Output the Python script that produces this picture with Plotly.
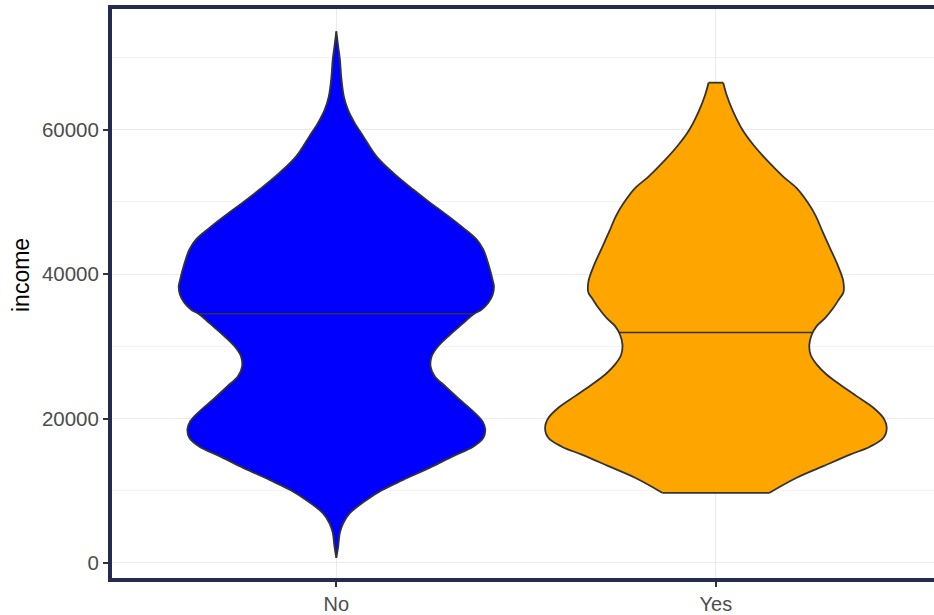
import numpy as np
import plotly.graph_objects as go

categories = ["No", "Yes"]

# violin outline: income levels (top -> bottom) and scaled density (1 = widest)
no_income = [73600, 71500, 69700, 67000, 64600, 62700, 60900, 59100, 56300, 54000,
             51700, 50100, 48200, 46400, 44800, 43400, 41500, 38800, 38300, 37100,
             36000, 35100, 34400, 33200, 31600, 30000, 28600, 27200, 25800, 24500,
             22600, 21000, 19600, 18500, 17300, 16100, 14800, 13200, 11500, 10100,
             8500, 6900, 5500, 4200, 2300, 700]
no_density = [0.0, 0.011, 0.021, 0.030, 0.044, 0.069, 0.108, 0.157, 0.235, 0.333,
              0.450, 0.537, 0.646, 0.743, 0.821, 0.860, 0.889, 0.919, 0.923, 0.915,
              0.889, 0.851, 0.801, 0.743, 0.665, 0.596, 0.558, 0.552, 0.577, 0.636,
              0.723, 0.801, 0.856, 0.872, 0.860, 0.801, 0.684, 0.548, 0.391, 0.269,
              0.164, 0.079, 0.040, 0.021, 0.011, 0.0]

yes_income = [66500, 64800, 62500, 59800, 57900, 55800, 53500, 51900, 49800, 48000,
              45900, 43600, 41300, 39000, 37400, 36700, 35300, 33900, 32800, 31600,
              30200, 28800, 27500, 26100, 24700, 23100, 21500, 20100, 18700, 17300,
              16100, 15000, 13400, 11800, 9700]
yes_density = [0.043, 0.063, 0.101, 0.160, 0.219, 0.297, 0.394, 0.473, 0.541, 0.586,
               0.624, 0.668, 0.712, 0.746, 0.746, 0.726, 0.687, 0.639, 0.590, 0.561,
               0.547, 0.555, 0.590, 0.648, 0.726, 0.824, 0.922, 0.980, 1.0, 0.980,
               0.902, 0.785, 0.629, 0.473, 0.312]

medians = [34500, 31900]
fill_colors = ["#0000FF", "#FFA500"]

y_ticks = [0, 20000, 40000, 60000]
y_tick_labels = ["0", "20000", "40000", "60000"]

HALF = 0.45
OUTLINE = "#333333"
BORDER = "#232C4F"
LW = 1.8

W, H = 944, 615
ML, MR, MT, MB = 112, 0, 9, 37

fig = go.Figure()
groups = [(no_income, no_density), (yes_income, yes_density)]
for i, (inc, den) in enumerate(groups):
    pos = i + 1
    inc = np.asarray(inc, float)
    den = np.asarray(den, float) * HALF
    line = dict(color=OUTLINE, width=LW, shape="spline", smoothing=1.0)
    # left side
    fig.add_trace(go.Scatter(
        x=pos - den, y=inc, mode="lines", line=line,
        hoverinfo="skip", showlegend=False))
    # right side, filled to the left side
    fig.add_trace(go.Scatter(
        x=pos + den, y=inc, mode="lines", line=line,
        fill="tonextx", fillcolor=fill_colors[i],
        hoverinfo="skip", showlegend=False))
    # flat ends (trimmed violin)
    fig.add_trace(go.Scatter(
        x=[pos - den[0], pos + den[0], None, pos - den[-1], pos + den[-1]],
        y=[inc[0], inc[0], None, inc[-1], inc[-1]], mode="lines",
        line=dict(color=OUTLINE, width=LW), hoverinfo="skip", showlegend=False))
    # median line spans violin width at the median
    w = np.interp(medians[i], inc[::-1], den[::-1])
    fig.add_trace(go.Scatter(
        x=[pos - w, pos + w], y=[medians[i], medians[i]], mode="lines",
        line=dict(color=OUTLINE, width=1.6), hoverinfo="skip", showlegend=False))

plot_w = W - ML - MR
plot_h = H - MT - MB

fig.add_annotation(
    text="income", textangle=-90, showarrow=False,
    xref="paper", yref="paper",
    x=(21 - ML) / plot_w, y=(H - MB - 275) / plot_h,
    xanchor="center", yanchor="middle",
    font=dict(size=23, color="black"))

fig.update_layout(
    width=W, height=H,
    margin=dict(l=ML, r=MR, t=MT, b=MB),
    paper_bgcolor="white", plot_bgcolor="white",
    font=dict(family="Liberation Sans, Arial, sans-serif", color="#4D4D4D", size=20),
    xaxis=dict(
        range=[0.409, 2.601], tickvals=[1, 2], ticktext=categories,
        showgrid=True, gridcolor="#EBEBEB", gridwidth=1.1, zeroline=False,
        showline=True, linecolor=BORDER, linewidth=4, mirror=True,
        ticks="outside", ticklen=5, tickwidth=1.5, tickcolor="#333333",
        tickfont=dict(size=20, color="#4D4D4D"),
    ),
    yaxis=dict(
        range=[-2080, 76700], tickvals=y_ticks, ticktext=y_tick_labels,
        showgrid=True, gridcolor="#EBEBEB", gridwidth=1.1, zeroline=False,
        minor=dict(tickvals=[10000, 30000, 50000, 70000], showgrid=True,
                   gridcolor="#F3F3F3", gridwidth=1, ticks=""),
        showline=True, linecolor=BORDER, linewidth=4, mirror=False,
        ticks="outside", ticklen=5, tickwidth=1.5, tickcolor="#333333",
        tickfont=dict(size=20.5, color="#4D4D4D"),
    ),
)

fig.write_html("out.html", config={"displayModeBar": False},
               post_script="document.body.style.margin='0';"
                           "document.body.style.overflow='hidden';"
                           "document.documentElement.style.overflow='hidden';")
